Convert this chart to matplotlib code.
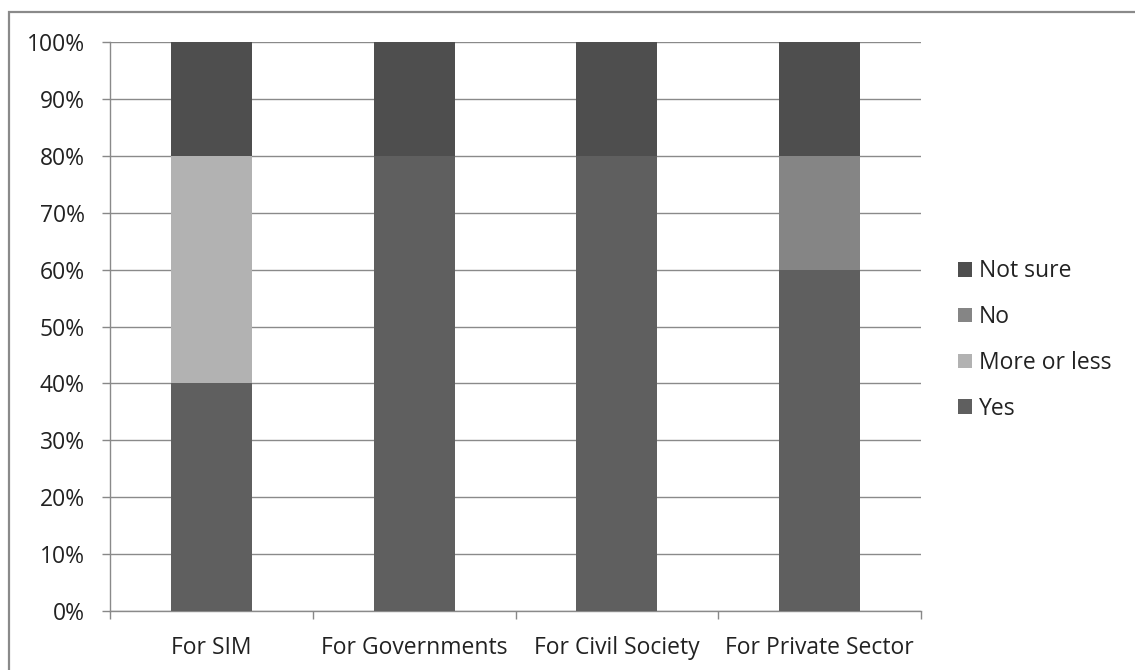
import matplotlib
matplotlib.use("Agg")
import matplotlib.pyplot as plt
from matplotlib.patches import Rectangle
from matplotlib.ticker import PercentFormatter

categories = ["For SIM", "For Governments", "For Civil Society", "For Private Sector"]
yes = [40, 80, 80, 60]
more_or_less = [40, 0, 0, 0]
no = [0, 0, 0, 20]
not_sure = [20, 20, 20, 20]

series = [("Yes", yes, "#5f5f5f"),
          ("More or less", more_or_less, "#b2b2b2"),
          ("No", no, "#858585"),
          ("Not sure", not_sure, "#4e4e4e")]

plt.rcParams['font.family'] = ['Open Sans', 'DejaVu Sans']

fig = plt.figure(figsize=(11.35, 6.7), dpi=100)
fig.patch.set_facecolor("white")
# outer frame
fig.add_artist(Rectangle((9/1135, -0.1), 1.2, 1 - 12/670 + 0.1, transform=fig.transFigure,
                         fill=False, edgecolor="#8a8a8a", linewidth=1.6))

ax = fig.add_axes([110/1135, 1 - 611/670, 811/1135, (611 - 42)/670])
x = list(range(len(categories)))
bottom = [0] * len(categories)
handles = []
for name, vals, col in series:
    b = ax.bar(x, vals, width=0.4, bottom=bottom, color=col, label=name, zorder=3)
    handles.append(b)
    bottom = [bb + v for bb, v in zip(bottom, vals)]

ax.set_xlim(-0.5, len(categories) - 0.5)
ax.set_ylim(0, 100)
ax.set_yticks(range(0, 101, 10))
ax.yaxis.set_major_formatter(PercentFormatter(decimals=0))
ax.set_xticks(x)
ax.set_xticklabels(categories)
ax.set_xticks([i - 0.5 for i in range(len(categories) + 1)], minor=True)
ax.tick_params(axis='x', which='major', length=0, pad=18, labelsize=16.5, labelcolor="#222222")
ax.tick_params(axis='x', which='minor', length=6, color="#888888", width=1)
ax.tick_params(axis='y', length=6, color="#888888", width=1, pad=12, labelsize=16.5, labelcolor="#222222")
ax.grid(axis='y', color="#8a8a8a", linewidth=1, zorder=0)
for s in ["top", "right"]:
    ax.spines[s].set_visible(False)
for s in ["left", "bottom"]:
    ax.spines[s].set_color("#8a8a8a")
    ax.spines[s].set_linewidth(1)

leg = fig.legend(handles[::-1], [s[0] for s in series][::-1], loc="center left",
                 bbox_to_anchor=(958/1135, 1 - 340/670), frameon=False, fontsize=16.5,
                 handlelength=0.6, handleheight=0.6, handletextpad=0.3, labelspacing=0.95,
                 borderaxespad=0, borderpad=0)
for t in leg.get_texts():
    t.set_color("#222222")

fig.savefig("out.png", dpi=100)
